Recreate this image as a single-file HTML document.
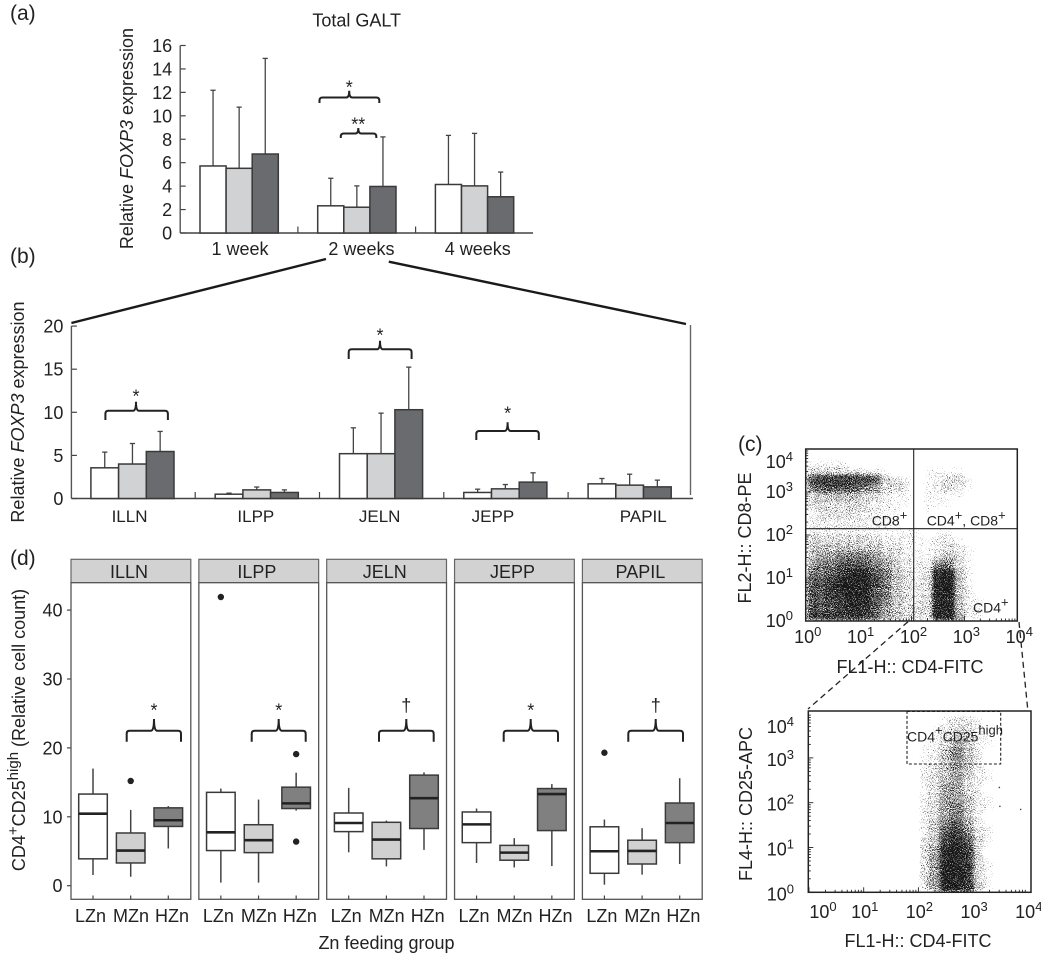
<!DOCTYPE html>
<html lang="en">
<head>
<meta charset="utf-8">
<title>FOXP3 expression and CD4+CD25high cell counts</title>
<style>
html,body{margin:0;padding:0;background:#fff;}
body{width:1041px;height:956px;overflow:hidden;}
svg{display:block;}
text{font-family:"Liberation Sans",Arial,sans-serif;fill:#222;font-size:18px;}
</style>
</head>
<body>
<svg id="fig" xmlns="http://www.w3.org/2000/svg" width="1041" height="956" viewBox="0 0 1041 956">
  <defs>
    <filter id="grain" filterUnits="userSpaceOnUse" x="790" y="440" width="251" height="470" color-interpolation-filters="sRGB">
      <feGaussianBlur in="SourceGraphic" stdDeviation="2" result="soft"/>
      <feTurbulence type="fractalNoise" baseFrequency="1.05" numOctaves="2" seed="7" result="noise"/>
      <feColorMatrix in="noise" type="matrix" values="0 0 0 0 0  0 0 0 0 0  0 0 0 0 0  1 0 0 0 0" result="noiseAlpha"/>
      <feComposite in="soft" in2="noiseAlpha" operator="arithmetic" k1="0" k2="1" k3="1" k4="-1" result="sum"/>
      <feComponentTransfer in="sum" result="hard"><feFuncA type="linear" slope="6"/></feComponentTransfer>
      <feFlood flood-color="#151515" result="ink"/>
      <feComposite in="ink" in2="hard" operator="in"/>
    </filter>
    <clipPath id="clip-c1"><rect x="805.7" y="449" width="211.6" height="172"/></clipPath>
    <clipPath id="clip-c2"><rect x="808.3" y="711" width="222.7" height="181.3"/></clipPath>
  </defs>

  <text x="10" y="20" style="font-size:21px">(a)</text>
  <text x="10" y="263" style="font-size:21px">(b)</text>
  <text x="738" y="451" style="font-size:21px">(c)</text>
  <text x="10" y="565" style="font-size:21px">(d)</text>

  <text x="356.7" y="26.5" text-anchor="middle">Total GALT</text>
  <text transform="translate(133 138.5) rotate(-90)" text-anchor="middle">Relative <tspan font-style="italic">FOXP3</tspan> expression</text>
  <text transform="translate(24 412) rotate(-90)" text-anchor="middle">Relative <tspan font-style="italic">FOXP3</tspan> expression</text>
  <text transform="translate(25 730) rotate(-90)" text-anchor="middle">CD4<tspan dy="-7" font-size="15">+</tspan><tspan dy="7">CD25</tspan><tspan dy="-7" font-size="15">high</tspan><tspan dy="7"> (Relative cell count)</tspan></text>
  <text x="386.5" y="949" text-anchor="middle">Zn feeding group</text>

  <line x1="71.4" y1="323" x2="326" y2="259" stroke="#1a1a1a" stroke-width="2.4"/>
  <line x1="388.8" y1="261.7" x2="686" y2="324" stroke="#1a1a1a" stroke-width="2.4"/>
  <line x1="908" y1="621.7" x2="808" y2="709" stroke="#222" stroke-width="1.3" stroke-dasharray="6 4"/>
  <line x1="1019" y1="622" x2="1027.7" y2="709" stroke="#222" stroke-width="1.3" stroke-dasharray="6 4"/>

  <g id="chart-a"></g>
  <g id="chart-b"></g>
  <g id="chart-d"></g>
  <g id="chart-c1"></g>
  <g id="chart-c2"></g>

  <text x="910" y="673" text-anchor="middle">FL1-H:: CD4-FITC</text>
  <text transform="translate(751 538) rotate(-90)" text-anchor="middle">FL2-H:: CD8-PE</text>
  <text x="918" y="947" text-anchor="middle">FL1-H:: CD4-FITC</text>
  <text transform="translate(752 804) rotate(-90)" text-anchor="middle">FL4-H:: CD25-APC</text>

  <text x="871.7" y="525.7" style="font-size:14px">CD8<tspan dy="-6" font-size="13">+</tspan></text>
  <text x="926.7" y="525.7" style="font-size:14px">CD4<tspan dy="-6" font-size="13">+</tspan><tspan dy="6">, CD8</tspan><tspan dy="-6" font-size="13">+</tspan></text>
  <text x="973" y="612.7" style="font-size:14px">CD4<tspan dy="-6" font-size="13">+</tspan></text>
  <text x="907" y="741.7" style="font-size:14px">CD4<tspan dy="-7" font-size="13">+</tspan><tspan dy="7">CD25</tspan><tspan dy="-7" font-size="13">high</tspan></text>
</svg>

<script>
/* ---------- chart (a) data ---------- */
const aCategories = ['1 week', '2 weeks', '4 weeks'];
const aTicks = [0, 2, 4, 6, 8, 10, 12, 14, 16];
const aLowZn = [5.72, 2.32, 4.14];
const aMidZn = [5.52, 2.2, 4.02];
const aHighZn = [6.74, 3.97, 3.09];
const aLowZnTop = [12.18, 4.67, 8.33];
const aMidZnTop = [10.74, 4.02, 8.5];
const aHighZnTop = [14.9, 8.2, 5.2];

/* ---------- chart (b) data ---------- */
const bCategories = ['ILLN', 'ILPP', 'JELN', 'JEPP', 'PAPIL'];
const bTicks = [0, 5, 10, 15, 20];
const bLowZn = [3.56, 0.5, 5.2, 0.7, 1.7];
const bMidZn = [4.0, 1.0, 5.2, 1.12, 1.55];
const bHighZn = [5.45, 0.7, 10.3, 1.9, 1.35];
const bLowZnTop = [5.38, 0.62, 8.2, 1.08, 2.32];
const bMidZnTop = [6.38, 1.33, 9.9, 1.62, 2.82];
const bHighZnTop = [7.78, 1.0, 15.24, 2.98, 2.13];

/* ---------- chart (d) data: [whisker top, Q3, median, Q1, whisker low] ---------- */
const dPanels = ['ILLN', 'ILPP', 'JELN', 'JEPP', 'PAPIL'];
const dGroups = ['LZn', 'MZn', 'HZn'];
const dTicks = [0, 10, 20, 30, 40];
const illnStats = [[17.0, 13.3, 10.45, 3.9, 1.55], [11.0, 7.65, 5.1, 3.3, 1.3], [11.55, 11.3, 9.5, 8.6, 5.4]];
const ilppStats = [[14.1, 13.55, 7.75, 5.1, 0.45], [12.5, 8.85, 6.6, 4.8, 0.45], [16.4, 14.3, 11.95, 11.2, 10.9]];
const jelnStats = [[14.2, 10.55, 9.1, 7.85, 4.85], [9.45, 9.2, 6.7, 3.9, 2.8], [16.45, 16.05, 12.7, 8.3, 5.2]];
const jeppStats = [[11.2, 10.7, 8.9, 6.25, 3.3], [6.9, 5.85, 4.8, 3.7, 2.65], [14.75, 14.1, 13.3, 8.0, 2.85]];
const papilStats = [[9.6, 8.55, 5.0, 1.8, 0.15], [8.35, 6.6, 5.05, 3.15, 1.6], [15.6, 12.0, 9.1, 6.25, 3.15]];
const illnOutliers = [[], [15.2], []];
const ilppOutliers = [[41.9], [], [19.1, 6.4]];
const jelnOutliers = [[], [], []];
const jeppOutliers = [[], [], []];
const papilOutliers = [[19.3], [], []];

/* ---------- chart (c) event density, per 0.2-decade bin, top row = highest y ---------- */
const logTicks = [0, 1, 2, 3, 4];
const c1Density = [
 [0,0,0,0,0,0,0,0,0,0,0,0,0,0,0,0,0,0,0,0],
 [1,1,1,1,0,0,0,0,0,0,0,0,0,0,0,0,0,0,0,0],
 [3,3,3,3,3,2,2,1,0,0,0,1,1,1,1,0,0,0,0,0],
 [7,8,8,8,8,8,7,4,3,2,0,1,2,3,3,1,0,0,0,0],
 [6,7,7,7,7,6,5,3,3,2,0,1,2,3,2,1,0,0,0,0],
 [3,4,4,4,4,3,3,2,1,1,0,1,1,1,1,0,0,0,0,0],
 [3,3,3,3,3,3,2,2,1,1,0,1,1,1,0,0,0,0,0,0],
 [2,3,3,3,3,2,2,1,1,0,0,1,0,0,0,0,0,0,0,0],
 [2,2,2,2,2,2,1,1,1,0,0,0,0,0,0,0,0,0,0,0],
 [2,2,2,2,2,2,1,1,1,1,1,0,1,1,0,0,0,0,0,0],
 [3,3,3,3,3,3,3,2,2,2,1,1,2,2,1,0,0,0,0,0],
 [4,4,4,4,4,4,4,3,3,2,1,1,2,3,2,1,0,0,0,0],
 [4,5,5,6,6,6,5,4,3,2,1,1,3,4,3,1,0,0,0,0],
 [5,6,6,7,7,7,6,5,4,2,2,2,6,6,3,1,0,0,0,0],
 [6,6,7,8,9,9,7,6,4,3,2,3,9,9,4,1,0,0,0,0],
 [7,7,8,9,9,9,8,6,4,3,2,3,9,9,4,1,0,0,0,0],
 [7,7,8,9,9,9,7,6,4,3,2,3,9,9,4,2,0,0,0,0],
 [7,7,8,8,9,9,7,6,4,3,2,3,9,9,4,2,1,0,0,0],
 [7,7,7,8,9,8,7,5,4,3,3,3,9,9,4,2,1,0,0,0],
 [8,8,8,8,8,8,7,5,4,3,3,3,9,9,5,2,1,0,0,0]
];
const c2Density = [
 [0,0,0,0,0,0,0,0,0,0,0,0,1,2,2,1,0,0,0,0],
 [0,0,0,0,0,0,0,0,0,0,0,1,2,3,3,2,0,0,0,0],
 [0,0,0,0,0,0,0,0,0,0,0,1,3,4,4,2,1,0,0,0],
 [0,0,0,0,0,0,0,0,0,0,1,2,3,5,4,2,1,0,0,0],
 [0,0,0,0,0,0,0,0,0,0,1,2,4,6,4,2,0,0,0,0],
 [0,0,0,0,0,0,0,0,0,0,1,2,4,5,4,2,0,0,0,0],
 [0,0,0,0,0,0,0,0,0,0,2,3,4,5,4,2,1,0,0,0],
 [0,0,0,0,0,0,0,0,0,0,2,3,4,5,3,2,1,0,0,0],
 [0,0,0,0,0,0,0,0,0,0,2,3,5,5,3,2,0,0,0,0],
 [0,0,0,0,0,0,0,0,0,0,2,3,5,5,4,2,1,0,0,0],
 [0,0,0,0,0,0,0,0,0,0,2,3,5,6,4,2,1,0,0,0],
 [0,0,0,0,0,0,0,0,0,0,2,3,5,6,4,2,0,0,0,0],
 [0,0,0,0,0,0,0,0,0,0,2,4,6,7,5,2,1,0,0,0],
 [0,0,0,0,0,0,0,0,0,0,2,4,7,8,6,3,1,0,0,0],
 [0,0,0,0,0,0,0,0,0,0,3,4,8,9,7,3,1,0,0,0],
 [0,0,0,0,0,0,0,0,0,0,3,5,9,9,8,3,0,0,0,0],
 [0,0,0,0,0,0,0,0,0,0,3,5,9,9,8,3,1,0,0,0],
 [0,0,0,0,0,0,0,0,0,0,3,5,9,9,8,3,1,0,0,0],
 [0,0,0,0,0,0,0,0,0,0,3,5,9,9,8,3,1,0,0,0],
 [0,0,0,0,0,0,0,0,0,0,3,5,9,9,8,4,1,0,0,0]
];
const c2StrayLogX = [3.48, 3.49, 3.87];
const c2StrayLogY = [2.34, 1.92, 1.85];

/* ---------- helpers ---------- */
const NS = 'http://www.w3.org/2000/svg';
function mk(parent, tag, attrs, name) {
  const el = document.createElementNS(NS, tag);
  for (const k in attrs) el.setAttribute(k, attrs[k]);
  
  
  parent.appendChild(el);
  return el;
}
function label(parent, x, y, str, anchor, name, size) {
  const t = mk(parent, 'text', {x: x, y: y, 'text-anchor': anchor}, name);
  if (size) t.style.fontSize = size + 'px';
  t.textContent = str;
  return t;
}
function bracket(parent, x0, x1, y, yEnd, nx, ny, mark, markY, markX) {
  const d = `M${x0} ${yEnd} L${x0} ${y+3} Q${x0} ${y} ${x0+3} ${y} L${nx-3} ${y} Q${nx} ${y} ${nx} ${ny} Q${nx} ${y} ${nx+3} ${y} L${x1-3} ${y} Q${x1} ${y} ${x1} ${y+3} L${x1} ${yEnd}`;
  mk(parent, 'path', {d: d, fill: 'none', stroke: '#222', 'stroke-width': 2}, 'significance-bracket');
  const mx = markX === undefined ? nx : markX;
  if (mark === '†') label(parent, mx, markY + 4.8, mark, 'middle', 'significance-dagger', 18);
  else label(parent, mx, markY + 10.6, mark, 'middle', 'significance-star', 18);
}
const barFills = ['#ffffff', '#d1d2d4', '#6a6b6e'];
const barNames = ['low-zn', 'mid-zn', 'high-zn'];

function barChart(g, cfg) {
  cfg.ticks.forEach(v => {
    mk(g, 'line', {x1: cfg.x0, x2: cfg.x0 + 5.5, y1: cfg.y(v), y2: cfg.y(v), stroke: '#444', 'stroke-width': 1.2}, 'y-tick');
    label(g, cfg.x0 - 8, cfg.y(v) + 6.5, String(v), 'end', 'y-tick-label', 18);
  });
  mk(g, 'line', {x1: cfg.x0, x2: cfg.x0, y1: cfg.y(cfg.ticks[cfg.ticks.length - 1]), y2: cfg.y(0), stroke: '#555', 'stroke-width': 1.4}, 'y-axis');
  mk(g, 'line', {x1: cfg.x0, x2: cfg.xEnd, y1: cfg.y(0), y2: cfg.y(0), stroke: '#444', 'stroke-width': 1.5}, 'x-axis');
  cfg.categories.forEach((c, i) => {
    const bx = cfg.band(i);
    if (i > 0) mk(g, 'line', {x1: bx, x2: bx, y1: cfg.y(0), y2: cfg.y(0) - 6.5, stroke: '#444', 'stroke-width': 1.2}, 'x-tick');
    label(g, bx + cfg.bandW / 2 + cfg.nudge[i], cfg.labelY, c, 'middle', 'x-tick-label', cfg.labelSize);
    cfg.values.forEach((series, j) => {
      const x = bx + cfg.pad + j * cfg.barW;
      const cx = x + cfg.barW / 2;
      mk(g, 'line', {x1: cx, x2: cx, y1: cfg.y(cfg.tops[j][i]), y2: cfg.y(series[i]), stroke: '#444', 'stroke-width': 1.3}, 'error-bar-' + barNames[j]);
      mk(g, 'line', {x1: cx - 2.6, x2: cx + 2.6, y1: cfg.y(cfg.tops[j][i]), y2: cfg.y(cfg.tops[j][i]), stroke: '#444', 'stroke-width': 1.3}, 'error-cap-' + barNames[j]);
      mk(g, 'rect', {x: x, y: cfg.y(series[i]), width: cfg.barW, height: cfg.y(0) - cfg.y(series[i]), fill: barFills[j], stroke: '#3a3a3a', 'stroke-width': 1.5}, 'bar-' + barNames[j]);
    });
  });
}

/* ---------- chart (a) ---------- */
const gA = document.getElementById('chart-a');
barChart(gA, {
  x0: 180.2, xEnd: 533, bandW: 117.7, band: i => 180.2 + i * 117.7,
  y: v => 233 - v * 187.5 / 16, ticks: aTicks, categories: aCategories,
  values: [aLowZn, aMidZn, aHighZn], tops: [aLowZnTop, aMidZnTop, aHighZnTop],
  pad: 19.8, barW: 26.1, labelY: 255, labelSize: 18, nudge: [1, 4.7, 3.3]
});
bracket(gA, 319.5, 379.3, 97.5, 103, 349.2, 90.7, '*', 83);
bracket(gA, 340.8, 376.3, 133.5, 138, 358.3, 128, '**', 120);

/* ---------- chart (b) ---------- */
const gB = document.getElementById('chart-b');
barChart(gB, {
  x0: 71.4, xEnd: 693, bandW: 124.3, band: i => 70.9 + i * 124.3,
  y: v => 498.5 - v * 8.62, ticks: bTicks, categories: bCategories,
  values: [bLowZn, bMidZn, bHighZn], tops: [bLowZnTop, bMidZnTop, bHighZnTop],
  pad: 20, barW: 27.7, labelY: 522, labelSize: 17, nudge: [-3.5, -1.5, -2, -13, 13]
});
mk(gB, 'line', {x1: 690.5, x2: 690.5, y1: 325, y2: 495, stroke: '#666', 'stroke-width': 1.4}, 'right-border');
bracket(gB, 105.4, 167.9, 410.7, 420, 136, 401.7, '*', 392);
bracket(gB, 348.7, 411.6, 349.3, 359, 380, 340.7, '*', 331);
bracket(gB, 476.3, 538.8, 431, 440, 507.6, 422.3, '*', 409);

/* ---------- chart (d) ---------- */
const gD = document.getElementById('chart-d');
const dY = v => 885.7 - v * 6.89;
const dLeft = i => 71 + i * 127.85;
const dWidth = 119.8;
const dTickOffsets = [22, 59.7, 97.3];
const dLabelOffsets = [19.5, 60, 101];
const dStats = [illnStats, ilppStats, jelnStats, jeppStats, papilStats];
const dOut = [illnOutliers, ilppOutliers, jelnOutliers, jeppOutliers, papilOutliers];
const boxFills = ['#ffffff', '#d0d0d0', '#808080'];
dTicks.forEach(v => {
  mk(gD, 'line', {x1: 67, x2: 71, y1: dY(v), y2: dY(v), stroke: '#444', 'stroke-width': 1.2}, 'y-tick');
  label(gD, 62.5, dY(v) + 6.5, String(v), 'end', 'y-tick-label', 18);
});
dPanels.forEach((p, i) => {
  const L = dLeft(i);
  mk(gD, 'rect', {x: L, y: 559.3, width: dWidth, height: 23.4, fill: '#d2d2d2', stroke: '#666', 'stroke-width': 1.2}, 'strip-' + p.toLowerCase());
  label(gD, L + 58, 578, p, 'middle', 'strip-label', 18);
  mk(gD, 'rect', {x: L, y: 582.7, width: dWidth, height: 316.6, fill: '#fff', stroke: '#555', 'stroke-width': 1.3}, 'panel-' + p.toLowerCase());
  dGroups.forEach((grp, j) => {
    const cx = L + dTickOffsets[j];
    const s = dStats[i][j];
    mk(gD, 'line', {x1: cx, x2: cx, y1: 899.3, y2: 895.5, stroke: '#444', 'stroke-width': 1.2}, 'x-tick');
    label(gD, L + dLabelOffsets[j], 922, grp, 'middle', 'x-tick-label', 18);
    mk(gD, 'line', {x1: cx, x2: cx, y1: dY(s[0]), y2: dY(s[4]), stroke: '#444', 'stroke-width': 1.5}, 'box-whisker');
    mk(gD, 'rect', {x: cx - 14.3, y: dY(s[1]), width: 28.6, height: dY(s[3]) - dY(s[1]), fill: boxFills[j], stroke: '#3a3a3a', 'stroke-width': 1.5}, 'box-' + grp.toLowerCase());
    mk(gD, 'line', {x1: cx - 14.3, x2: cx + 14.3, y1: dY(s[2]), y2: dY(s[2]), stroke: '#222', 'stroke-width': 2.6}, 'box-median');
    dOut[i][j].forEach(v => {
      mk(gD, 'circle', {cx: cx, cy: dY(v), r: 3.2, fill: '#222'}, 'box-outlier');
    });
  });
});
bracket(gD, 126.7, 181, 730.7, 741.7, 154, 719, '*', 706);
bracket(gD, 251.7, 305.7, 730.7, 741.7, 278.7, 719, '*', 706);
bracket(gD, 379, 433.7, 730.7, 741.7, 406.3, 719, '†', 706.7);
bracket(gD, 503.7, 558, 730.7, 741.7, 530.7, 719, '*', 706);
bracket(gD, 628.3, 683, 730.7, 741.7, 655.7, 719, '†', 706.7);

/* ---------- chart (c) ---------- */
function powerLabel(parent, x, y, exp, anchor) {
  const t = mk(parent, 'text', {x: x, y: y, 'text-anchor': anchor}, 'log-tick-label');
  t.style.fontSize = '18px';
  t.appendChild(document.createTextNode('10'));
  const sup = document.createElementNS(NS, 'tspan');
  sup.setAttribute('dy', '-7');
  sup.setAttribute('font-size', '13');
  sup.textContent = String(exp);
  t.appendChild(sup);
}
function density(g, cfg) {
  const grid = mk(g, 'g', {filter: 'url(#grain)'}, 'event-density');
  cfg.matrix.forEach((row, r) => {
    const logTop = 4 - r * 0.2;
    row.forEach((d, c) => {
      if (!d) return;
      const lx = c * 0.2;
      mk(grid, 'rect', {
        x: cfg.x(lx), y: cfg.y(logTop),
        width: cfg.x(lx + 0.2) - cfg.x(lx) + 0.5,
        height: cfg.y(logTop - 0.2) - cfg.y(logTop) + 0.5,
        fill: '#000', opacity: (0.28 + d * 0.05).toFixed(3)
      }, 'density-cell');
    });
  });
}
function logMinor(g, cfg) {
  for (let e = 0; e < 4; e++) {
    for (let m = 1; m < 10; m++) {
      const lx = e + Math.log10(m);
      const len = m === 1 ? 5 : 2.5;
      const px = cfg.x(lx), py = cfg.y(lx);
      if (px >= cfg.left && px <= cfg.right) mk(g, 'line', {x1: px, x2: px, y1: cfg.bottom, y2: cfg.bottom - len, stroke: '#222', 'stroke-width': 0.9}, 'x-minor-tick');
      if (py >= cfg.top && py <= cfg.bottom) mk(g, 'line', {x1: cfg.left, x2: cfg.left + len, y1: py, y2: py, stroke: '#222', 'stroke-width': 0.9}, 'y-minor-tick');
    }
  }
}

/* top scatter */
const gC1 = document.getElementById('chart-c1');
const c1X = v => 805.7 + v * 52.9;
const c1Y = v => 621 - v * 43;
const c1Clip = mk(gC1, 'g', {'clip-path': 'url(#clip-c1)'}, 'scatter-clip');
density(c1Clip, {matrix: c1Density, x: c1X, y: c1Y});
mk(gC1, 'rect', {x: 805.7, y: 449, width: 211.6, height: 172, fill: 'none', stroke: '#222', 'stroke-width': 1.5}, 'plot-frame');
mk(gC1, 'line', {x1: 913.7, x2: 913.7, y1: 449, y2: 621, stroke: '#222', 'stroke-width': 1.1}, 'gate-vertical');
mk(gC1, 'line', {x1: 805.7, x2: 1017.3, y1: 528.7, y2: 528.7, stroke: '#222', 'stroke-width': 1.1}, 'gate-horizontal');
logMinor(gC1, {x: c1X, y: c1Y, left: 805.7, right: 1017.3, top: 449, bottom: 621});
logTicks.forEach(e => {
  powerLabel(gC1, 793, Math.max(c1Y(e) + 6, 468) , e, 'end');
  powerLabel(gC1, c1X(e) + 2, 643, e, 'middle');
});

/* bottom scatter */
const gC2 = document.getElementById('chart-c2');
const c2X = v => 809 + v * 54.7;
const c2Y = v => 892.3 - v * 44.8;
const c2Clip = mk(gC2, 'g', {'clip-path': 'url(#clip-c2)'}, 'scatter-clip');
density(c2Clip, {matrix: c2Density, x: c2X, y: c2Y});
c2StrayLogX.forEach((lx, i) => {
  mk(c2Clip, 'circle', {cx: c2X(lx), cy: c2Y(c2StrayLogY[i]), r: 0.8, fill: '#444'}, 'stray-event');
});
mk(gC2, 'rect', {x: 808.3, y: 711, width: 222.7, height: 181.3, fill: 'none', stroke: '#222', 'stroke-width': 1.5}, 'plot-frame');
mk(gC2, 'rect', {x: 907, y: 711.5, width: 93.7, height: 52.5, fill: 'none', stroke: '#222', 'stroke-width': 1.1, 'stroke-dasharray': '3 2'}, 'cd25-high-gate');
logMinor(gC2, {x: c2X, y: c2Y, left: 808.3, right: 1031, top: 711, bottom: 892.3});
logTicks.forEach(e => {
  powerLabel(gC2, 794, Math.max(c2Y(e) + 8, 733), e, 'end');
  powerLabel(gC2, Math.max(c2X(e) + 1, 823), 918, e, 'middle');
});
</script>
</body>
</html>
